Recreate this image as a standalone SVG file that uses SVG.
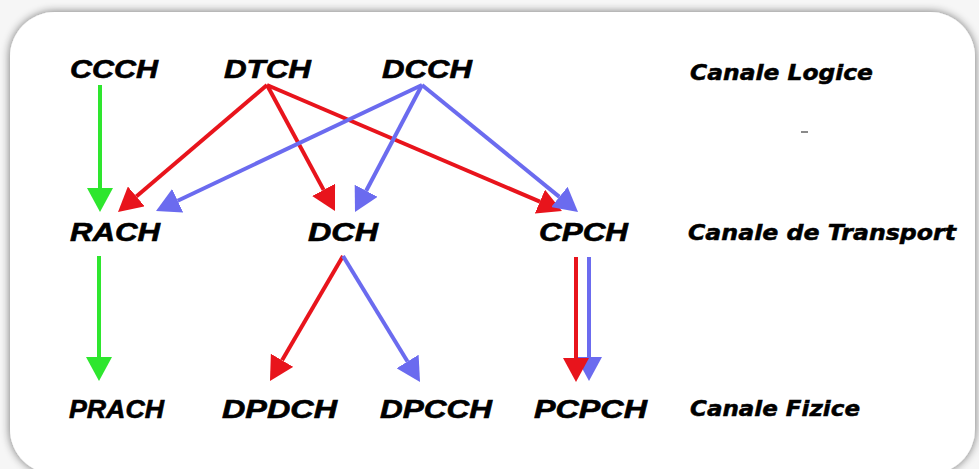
<svg xmlns="http://www.w3.org/2000/svg" width="979" height="469" viewBox="0 0 979 469">
  <defs>
    <filter id="shadow" x="-5%" y="-5%" width="110%" height="110%">
      <feGaussianBlur in="SourceAlpha" stdDeviation="5"/>
      <feOffset dx="0" dy="0" result="b"/>
      <feComponentTransfer><feFuncA type="linear" slope="0.55"/></feComponentTransfer>
      <feMerge><feMergeNode/><feMergeNode in="SourceGraphic"/></feMerge>
    </filter>
    <marker id="hG" markerUnits="userSpaceOnUse" markerWidth="26" markerHeight="26" refX="0" refY="13" orient="auto">
      <path d="M0,0 L24,13 L0,26 Z" fill="#2ee62e"/>
    </marker>
    <marker id="hR" markerUnits="userSpaceOnUse" markerWidth="26" markerHeight="26" refX="0" refY="13" orient="auto">
      <path d="M0,0 L24,13 L0,26 Z" fill="#e8141c"/>
    </marker>
    <marker id="hB" markerUnits="userSpaceOnUse" markerWidth="26" markerHeight="26" refX="0" refY="13" orient="auto">
      <path d="M0,0 L24,13 L0,26 Z" fill="#6b6bef"/>
    </marker>
  </defs>
  <style>
    .node { font-family: "Liberation Sans", Arial, sans-serif; font-weight: bold; font-style: italic; font-size: 25px; fill: #000; stroke: #000; stroke-width: 0.6; }
    .lbl { font-family: "DejaVu Sans", Verdana, sans-serif; font-weight: bold; font-style: oblique; font-size: 21px; fill: #000; stroke: #000; stroke-width: 0.5; }
    .g { stroke: #2ee62e; stroke-width: 4; fill: none; marker-end: url(#hG); }
    .r { stroke: #e8141c; stroke-width: 4; fill: none; marker-end: url(#hR); }
    .b { stroke: #6b6bef; stroke-width: 4; fill: none; marker-end: url(#hB); }
  </style>

  <rect x="0" y="0" width="979" height="469" fill="#f6f6f6"/>
  <rect id="card" x="10" y="12" width="965" height="462" rx="45" ry="45" fill="#ffffff" filter="url(#shadow)"/>

  <g id="connectors">
    <line class="g" x1="100" y1="85" x2="100" y2="188"/>
    <line class="g" x1="99" y1="256" x2="99" y2="357"/>
    <line class="r" x1="267" y1="85" x2="136.3" y2="196.4"/>
    <line class="r" x1="267" y1="85" x2="323.6" y2="189.9"/>
    <line class="r" x1="267" y1="85" x2="539.9" y2="201.6"/>
    <line class="b" x1="422" y1="85" x2="177.7" y2="200.7"/>
    <line class="b" x1="422" y1="85" x2="366.2" y2="190.8"/>
    <line class="b" x1="422" y1="85" x2="559.4" y2="196.9"/>
    <line class="r" x1="343" y1="256" x2="282.1" y2="360.3"/>
    <line class="b" x1="343" y1="256" x2="407.5" y2="361.5"/>
    <line class="b" x1="589" y1="257" x2="589" y2="357"/>
    <line class="r" x1="576" y1="257" x2="576" y2="358"/>
  </g>

  <g id="CCCH"><text class="node" x="70" y="78" textLength="88" lengthAdjust="spacingAndGlyphs">CCCH</text></g>
  <g id="DTCH"><text class="node" x="224" y="78" textLength="87" lengthAdjust="spacingAndGlyphs">DTCH</text></g>
  <g id="DCCH"><text class="node" x="382" y="78" textLength="90" lengthAdjust="spacingAndGlyphs">DCCH</text></g>
  <g id="RACH"><text class="node" x="70" y="241" textLength="90" lengthAdjust="spacingAndGlyphs">RACH</text></g>
  <g id="DCH"><text class="node" x="308" y="241" textLength="70" lengthAdjust="spacingAndGlyphs">DCH</text></g>
  <g id="CPCH"><text class="node" x="539" y="241" textLength="89" lengthAdjust="spacingAndGlyphs">CPCH</text></g>
  <g id="PRACH"><text class="node" x="69" y="418" textLength="95" lengthAdjust="spacingAndGlyphs">PRACH</text></g>
  <g id="DPDCH"><text class="node" x="222" y="418" textLength="115" lengthAdjust="spacingAndGlyphs">DPDCH</text></g>
  <g id="DPCCH"><text class="node" x="380" y="418" textLength="112" lengthAdjust="spacingAndGlyphs">DPCCH</text></g>
  <g id="PCPCH"><text class="node" x="534" y="418" textLength="113" lengthAdjust="spacingAndGlyphs">PCPCH</text></g>

  <g id="label-logice"><text class="lbl" x="690" y="80" textLength="183" lengthAdjust="spacingAndGlyphs">Canale Logice</text></g>
  <g id="label-transport"><text class="lbl" x="688" y="240" textLength="268" lengthAdjust="spacingAndGlyphs">Canale de Transport</text></g>
  <g id="label-fizice"><text class="lbl" x="690" y="416" textLength="170" lengthAdjust="spacingAndGlyphs">Canale Fizice</text></g>

  <rect x="801" y="131" width="7" height="2" fill="#8a8a8a"/>
</svg>
